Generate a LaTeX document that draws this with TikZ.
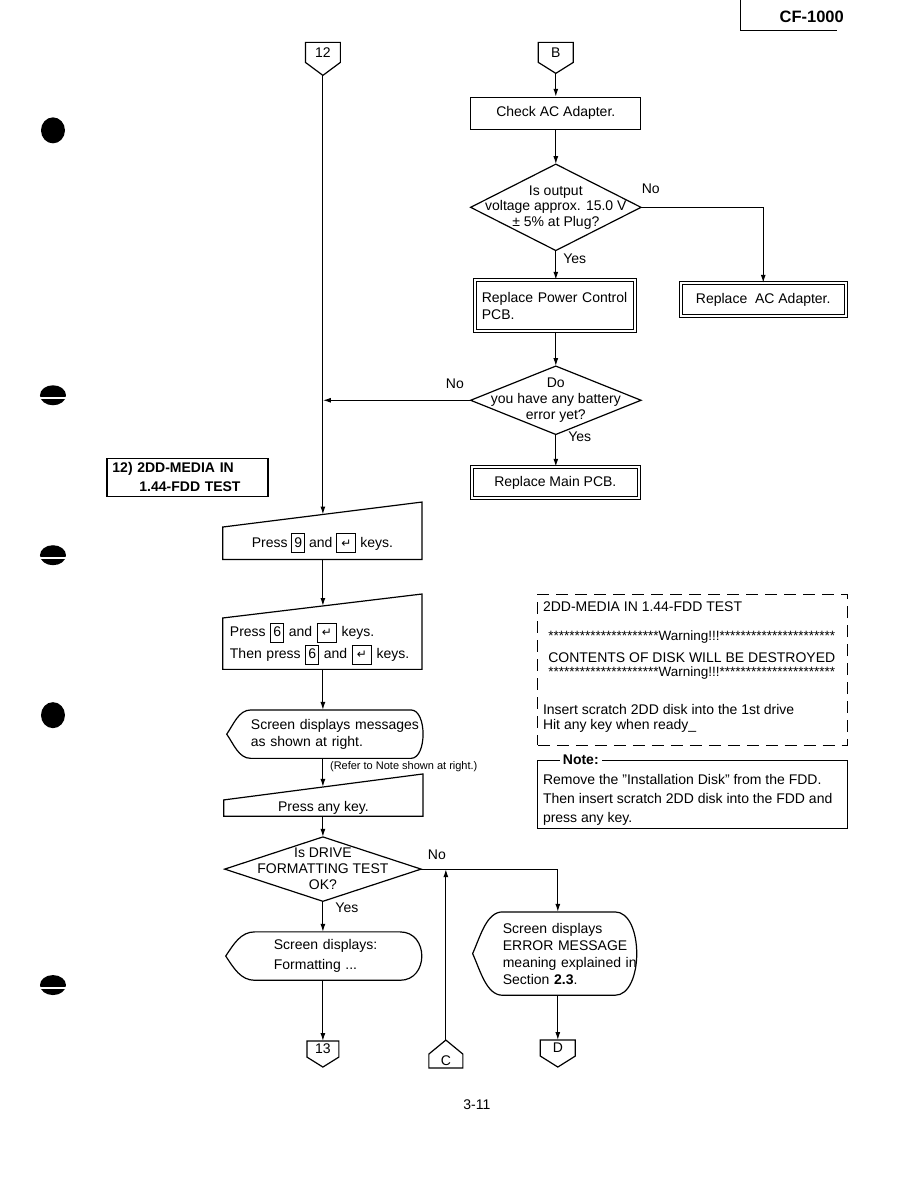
\documentclass[tikz,border=0pt]{standalone}
\usepackage{fontspec}
\setmainfont{Liberation Sans}
\newfontfamily\symfont{DejaVu Sans}
\usetikzlibrary{arrows.meta,calc}

% key caps used in the key-press boxes
\newcommand{\keycap}[1]{{\setlength{\fboxsep}{2pt}\setlength{\fboxrule}{1pt}\fbox{\rule[-3pt]{0pt}{14pt}#1}}}
\newcommand{\retkey}{\keycap{\symfont\fontsize{12}{12}\selectfont\,↵\,}}
\newcommand{\stars}[1]{\foreach \i in {1,...,#1}{*}}

\begin{document}
\begin{tikzpicture}[x=1pt, y=1pt,
    every node/.style={font=\fontsize{14}{16.5}\selectfont, inner sep=0pt},
    flow/.style={line width=1.2pt},
    arr/.style={flow, -{Latex[length=8pt,width=5pt]}},
    box/.style={draw, line width=1.2pt, align=center},
    dbox/.style={draw, double, double distance=2.2pt, line width=1pt}]

  \fill[white] (0,0) rectangle (918,-1188);

  % page header
  \node[font=\bfseries\fontsize{16.5}{18}\selectfont] (model) at (812,-16) {CF-1000};
  \draw[line width=0.8pt] (741,0) -- (741,-30) -- (837,-30);

  % binder holes at the left margin
  \foreach \py in {130,715} \fill (53,-\py) ellipse (12 and 13);
  \foreach \py in {395,555,985} {
    \fill (53,-\py) ellipse (13 and 10);
    \fill[white] (38,-\py-1.5) rectangle (68,-\py-4);
  }

  % off-page connectors
  \coordinate (col) at (323,0);
  \foreach \nm/\cx/\cy/\hw/\hh/\tp/\lab in {c12/323/52/17.5/10/23/12, cB/556/52/17.5/10/21/B, c13/323/1049/16/8/18/13, cD/558/1048/17.5/8/19/D}{
    \node (\nm) at (\cx,-\cy) {\lab};
    \draw[flow] (\nm.center) +(-\hw,\hh) -- +(\hw,\hh) -- +(\hw,-\hh) -- +(0,-\tp) -- +(-\hw,-\hh) -- cycle;
    \coordinate (\nm-tip) at ($(\nm.center)+(0,-\tp)$);
    \coordinate (\nm-top) at ($(\nm.center)+(0,\hh)$);
  }
  \node (cC) at (446,-1061) {C};
  \draw[flow] (cC.center) +(-17,-7) -- +(17,-7) -- +(17,7) -- +(0,21) -- +(-17,7) -- cycle;
  \coordinate (cC-tip) at ($(cC.center)+(0,21)$);

  % right branch: AC adapter
  \node[box, minimum width=170, minimum height=32] (check) at (556,-113) {Check AC Adapter.};
  \node[minimum width=170, minimum height=86, align=center, font=\fontsize{14}{15.5}\selectfont] (volt) at (556,-207) {Is output\\voltage approx. 15.0 V\\± 5\% at Plug?};
  \draw[flow] (volt.west) -- (volt.north) -- (volt.east) -- (volt.south) -- cycle;
  \node[dbox, minimum width=165, minimum height=33] (adapter) at (763.5,-299.5) {Replace\ \ AC Adapter.};
  \node[dbox, minimum width=160, minimum height=51, text width=146, align=left] (pcb) at (555,-305.5) {\mbox{Replace Power Control}\\PCB.};
  \node[minimum width=170, minimum height=68, align=center, font=\fontsize{14}{16}\selectfont] (batt) at (556,-400) {Do\\you have any battery\\error yet?};
  \draw[flow] (batt.west) -- (batt.north) -- (batt.east) -- (batt.south) -- cycle;
  \node[dbox, minimum width=167, minimum height=31] (mainpcb) at (555.5,-482.5) {Replace Main PCB.};

  \node (no1) at (651,-188) {No};
  \node (yes1) at (575,-258) {Yes};
  \node (no2) at (455,-383) {No};
  \node (yes2) at (580,-436) {Yes};

  \draw[arr] (cB-tip) -- (cB-tip |- check.north);
  \draw[arr] (check.south) -- (volt.north);
  \draw[arr] (volt.east) -| (adapter.north);
  \draw[arr] (volt.south) -- (volt.south |- pcb.north);
  \draw[arr] (volt.south |- pcb.south) -- (batt.north);
  \draw[arr] (batt.west) -- (batt.west -| col);
  \draw[arr] (batt.south) -- (batt.south |- mainpcb.north);

  % left column: test 12
  \node[draw, line width=1.4pt, minimum width=161, minimum height=38, text width=150, align=left, font=\bfseries\fontsize{14}{19}\selectfont] (title) at (187.5,-477) {12) 2DD-MEDIA IN\\\hspace*{27pt}1.44-FDD TEST};

  \node[minimum width=199, minimum height=32] (p9) at (322.5,-543) {Press \keycap{9} and \retkey{} keys.};
  \coordinate (p9-ne) at ($(p9.north east)+(0,25)$);
  \draw[flow] (p9.north west) -- (p9.south west) -- (p9.south east) -- (p9-ne) -- cycle;
  \coordinate (p9-in) at ($(p9.north west)!0.5!(p9-ne)$);
  \draw[arr] (c12-tip) -- (col |- p9-in);

  \node[minimum width=199, minimum height=51, text width=185, align=left, font=\fontsize{14}{22}\selectfont] (p6) at (322.5,-643.5) {\mbox{Press \keycap{6} and \retkey{} keys.}\\\mbox{Then press \keycap{6} and \retkey{} keys.}};
  \coordinate (p6-ne) at ($(p6.north east)+(0,24)$);
  \draw[flow] (p6.north west) -- (p6.south west) -- (p6.south east) -- (p6-ne) -- cycle;
  \coordinate (p6-in) at ($(p6.north west)!0.5!(p6-ne)$);
  \draw[arr] (col |- p9.south) -- (col |- p6-in);

  \node[minimum width=160, minimum height=48, text width=160, align=left, font=\fontsize{14}{17}\selectfont] (msg) at (331,-734) {\mbox{Screen displays messages}\\as shown at right.};
  \draw[flow] (msg.north west) -- (msg.north east) .. controls +(16,0) and +(16,0) .. (msg.south east) -- (msg.south west) .. controls +(-12,0) and +(7,-10) .. ($(msg.west)+(-24,0)$) .. controls +(7,10) and +(-12,0) .. (msg.north west);
  \draw[arr] (col |- p6.south) -- (col |- msg.north);
  \node[font=\fontsize{11}{12}\selectfont, anchor=west] (refer) at (330,-767) {(Refer to Note shown at right.)};

  \node[minimum width=199, minimum height=16] (anykey) at (323.5,-808) {Press any key.};
  \coordinate (anykey-ne) at ($(anykey.north east)+(0,26)$);
  \draw[flow] (anykey.north west) -- (anykey.south west) -- (anykey.south east) -- (anykey-ne) -- cycle;
  \coordinate (anykey-in) at ($(anykey.north west)!0.5!(anykey-ne)$);
  \draw[arr] (col |- msg.south) -- (col |- anykey-in);

  \node[minimum width=196, minimum height=64, align=center, font=\fontsize{14}{16}\selectfont] (format) at (323,-869) {Is DRIVE\\FORMATTING TEST\\OK?};
  \draw[flow] (format.west) -- (format.north) -- (format.east) -- (format.south) -- cycle;
  \draw[arr] (col |- anykey.south) -- (format.north);
  \node (yes3) at (347,-908) {Yes};
  \node (no3) at (437,-855) {No};

  \node[minimum width=145, minimum height=48, text width=107, align=left, font=\fontsize{14}{20}\selectfont] (fmt) at (327.5,-956) {\mbox{Screen displays:}\\Formatting ...};
  \draw[flow] (fmt.north west) -- (fmt.north east) .. controls +(29,0) and +(29,0) .. (fmt.south east) -- (fmt.south west) .. controls +(-14,0) and +(8,-12) .. ($(fmt.west)+(-29,0)$) .. controls +(8,12) and +(-14,0) .. (fmt.north west);
  \draw[arr] (format.south) -- (col |- fmt.north);
  \draw[arr] (col |- fmt.south) -- (c13-top);

  \node[minimum width=112, minimum height=83, text width=112, align=left, font=\fontsize{14}{17}\selectfont] (err) at (559,-953.5) {\mbox{Screen displays}\\\mbox{ERROR MESSAGE}\\\mbox{meaning explained in}\\\mbox{Section \textbf{2.3}.}};
  \draw[flow] (err.north west) -- (err.north east) .. controls +(29,0) and +(29,0) .. (err.south east) -- (err.south west) .. controls +(-16,0) and +(8,-18) .. ($(err.west)+(-30,0)$) .. controls +(8,18) and +(-16,0) .. (err.north west);
  \draw[arr] (format.east) -| (cD-top |- err.north);
  \draw[arr] (cD-top |- err.south) -- (cD-top);
  \draw[arr] (cC-tip) -- (cC-tip |- format.east);

  \node (pageno) at (477,-1105) {3-11};

  % screen message and note
  \node[draw, dash pattern=on 12pt off 7pt, line width=1.1pt, minimum width=310, minimum height=151] (screen) at (693,-669.5) {};
  \node[anchor=west] (scr1) at (543,-606) {2DD-MEDIA IN 1.44-FDD TEST};
  \node[font=\fontsize{13.5}{15}\selectfont] (scr2) at (692,-637) {\stars{21}Warning!!!\stars{22}};
  \node (scr3) at (692,-657) {CONTENTS OF DISK WILL BE DESTROYED};
  \node[font=\fontsize{13.5}{15}\selectfont] (scr4) at (692,-673) {\stars{21}Warning!!!\stars{22}};
  \node[anchor=west] (scr5) at (543,-709) {Insert scratch 2DD disk into the 1st drive};
  \node[anchor=west] (scr6) at (543,-726) {Hit any key when ready\_};

  \node[draw, line width=1pt, minimum width=310, minimum height=68] (note) at (693,-794) {};
  \node[fill=white, inner xsep=3pt, inner ysep=1pt, font=\bfseries\fontsize{14}{16}\selectfont] (notehd) at (581,-760) {Note:};
  \node[anchor=north west, align=left, font=\fontsize{14}{19}\selectfont] (notetxt) at (543,-774) {Remove the "Installation Disk" from the FDD.\\Then insert scratch 2DD disk into the FDD and\\press any key.};
\end{tikzpicture}
\end{document}
